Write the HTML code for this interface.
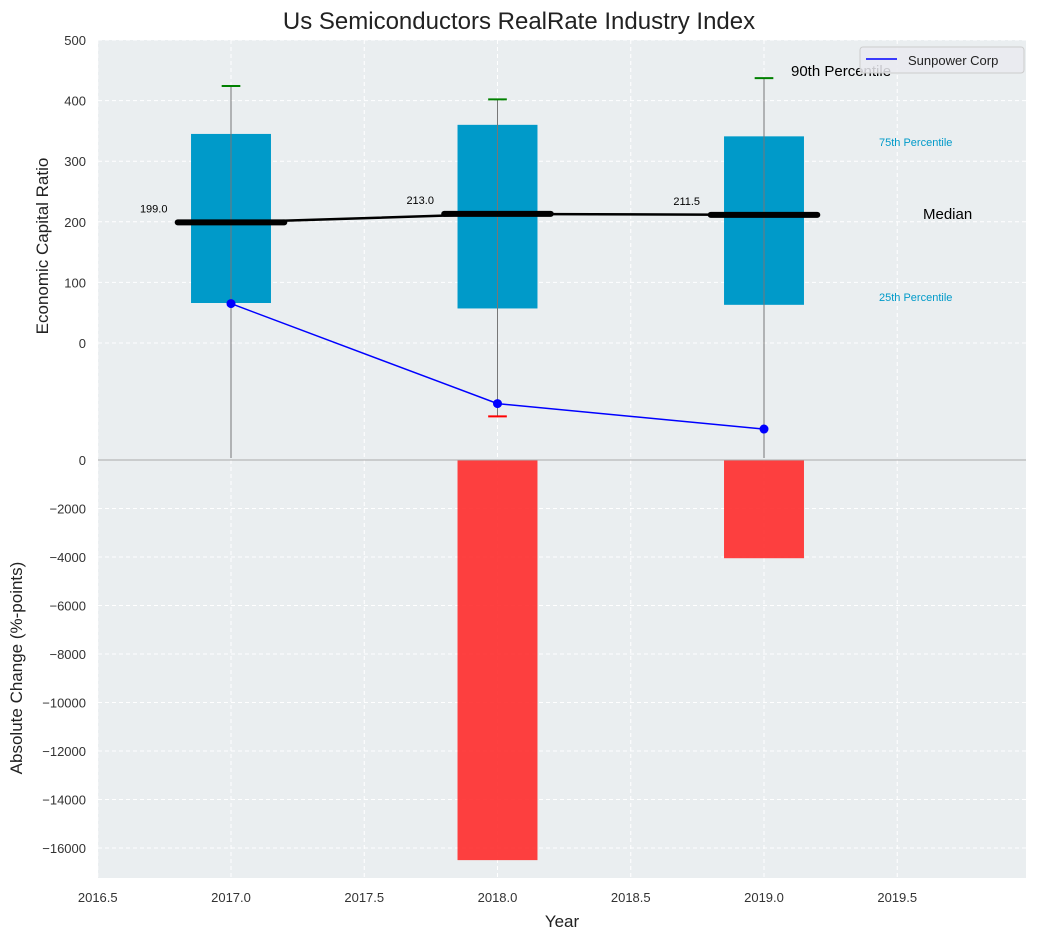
<!DOCTYPE html>
<html><head><meta charset="utf-8"><style>
body{margin:0;background:#fff;font-family:"Liberation Sans",sans-serif}
svg text{font-family:"Liberation Sans",sans-serif}
</style></head><body>
<svg id="c" width="1038" height="940"></svg>
<script>
const years=[2017,2018,2019];
const q25=[66,57,63];
const q75=[345,360,341];
const medians=[199,213,211.5];
const p90=[424,402,437];
const p10=[-300,-121,-300];
const sunpower=[65,-100,-142];
const absChange=[0,-16500,-4050];
const topTicks=[0,100,200,300,400,500];
const botTicks=[0,-2000,-4000,-6000,-8000,-10000,-12000,-14000,-16000];
const xTicks=[2016.5,2017,2017.5,2018,2018.5,2019,2019.5];

const NS='http://www.w3.org/2000/svg';
const svg=document.getElementById('c');
function el(t,a,txt){const e=document.createElementNS(NS,t);for(const k in a)e.setAttribute(k,a[k]);if(txt!==undefined)e.textContent=txt;svg.appendChild(e);return e;}
const L=98,R=1026,T0=40,T1=460,B1=878;
const x=v=>231+(v-2017)*266.5;
const yT=v=>343-v*0.606;
const yB=v=>460-v*0.02425;
const minus=s=>String(s).replace('-','−');

let e;
e=el('rect',{x:L,y:T0,width:R-L,height:B1-T0,fill:'#eaeef0'});

// grid
xTicks.forEach(t=>{e=el('line',{x1:x(t),x2:x(t),y1:T0,y2:B1,stroke:'#fff','stroke-dasharray':'4,3','stroke-width':1});

e=el('text',{x:x(t),y:902,'text-anchor':'middle','font-size':13,fill:'#333'},t.toFixed(1));
});
topTicks.forEach(t=>{e=el('line',{x1:L,x2:R,y1:yT(t),y2:yT(t),stroke:'#fff','stroke-dasharray':'4,3'});

e=el('text',{x:86,y:yT(t)+5,'text-anchor':'end','font-size':13,fill:'#333'},t);
});
botTicks.forEach(t=>{e=el('line',{x1:L,x2:R,y1:yB(t),y2:yB(t),stroke:'#fff','stroke-dasharray':'4,3'});

e=el('text',{x:86,y:yB(t)+5,'text-anchor':'end','font-size':13,fill:'#333'},minus(t));
});
// bars
years.forEach((yr,i)=>{const v=absChange[i];if(v===0)return;
e=el('rect',{x:x(yr-0.15),y:yB(0),width:x(yr+0.15)-x(yr-0.15),height:yB(v)-yB(0),fill:'#ff2b2b','fill-opacity':0.9});
});
// boxes
years.forEach((yr,i)=>{
e=el('rect',{x:x(yr-0.15),y:yT(q75[i]),width:x(yr+0.15)-x(yr-0.15),height:yT(q25[i])-yT(q75[i]),fill:'#009ac9'});

e=el('line',{x1:x(yr),x2:x(yr),y1:yT(p90[i]),y2:Math.min(458,yT(p10[i])),stroke:'#777','stroke-width':1});

e=el('line',{x1:x(yr-0.035),x2:x(yr+0.035),y1:yT(p90[i]),y2:yT(p90[i]),stroke:'green','stroke-width':2});

if(yT(p10[i])<T1){e=el('line',{x1:x(yr-0.035),x2:x(yr+0.035),y1:yT(p10[i]),y2:yT(p10[i]),stroke:'red','stroke-width':2});
}
});
// median connecting line
e=el('polyline',{points:years.map((yr,i)=>x(yr)+','+yT(medians[i])).join(' '),fill:'none',stroke:'#000','stroke-width':2.5});

years.forEach((yr,i)=>{
e=el('line',{x1:x(yr-0.2),x2:x(yr+0.2),y1:yT(medians[i]),y2:yT(medians[i]),stroke:'#000','stroke-width':6,'stroke-linecap':'round'});

e=el('text',{x:x(yr-0.29),y:yT(medians[i])-10,'text-anchor':'middle','font-size':11,fill:'#000'},medians[i].toFixed(1));
});
// sunpower
e=el('polyline',{points:years.map((yr,i)=>x(yr)+','+yT(sunpower[i])).join(' '),fill:'none',stroke:'#0000ff','stroke-width':1.5});

years.forEach((yr,i)=>{e=el('circle',{cx:x(yr),cy:yT(sunpower[i]),r:4.5,fill:'#0000ff'});
});
// separator
e=el('line',{x1:L,x2:R,y1:460,y2:460,stroke:'#aaa','stroke-width':1});

// annotations
e=el('text',{x:791,y:76,'font-size':15,fill:'#000'},'90th Percentile');
e=el('text',{x:879,y:146,'font-size':11,fill:'#009ac9'},'75th Percentile');
e=el('text',{x:923,y:219,'font-size':15,fill:'#000'},'Median');
e=el('text',{x:879,y:301,'font-size':11,fill:'#009ac9'},'25th Percentile');
// legend
e=el('rect',{x:860,y:47,width:164,height:26,rx:3,fill:'#eaeaf0','fill-opacity':0.85,stroke:'#ccc'});
e=el('line',{x1:866,x2:897,y1:59,y2:59,stroke:'#0000ff','stroke-width':1.5});
e=el('text',{x:908,y:65,'font-size':13,fill:'#222'},'Sunpower Corp');
// titles
e=el('text',{x:519,y:29,'text-anchor':'middle','font-size':24,fill:'#222'},'Us Semiconductors RealRate Industry Index');
e=el('text',{x:562,y:927,'text-anchor':'middle','font-size':17,fill:'#222'},'Year');
e=el('text',{x:0,y:0,'text-anchor':'middle','font-size':17,fill:'#222',transform:'translate(48,246) rotate(-90)'},'Economic Capital Ratio');
e=el('text',{x:0,y:0,'text-anchor':'middle','font-size':17,fill:'#222',transform:'translate(22,668) rotate(-90)'},'Absolute Change (%-points)');
</script>
</body></html>
